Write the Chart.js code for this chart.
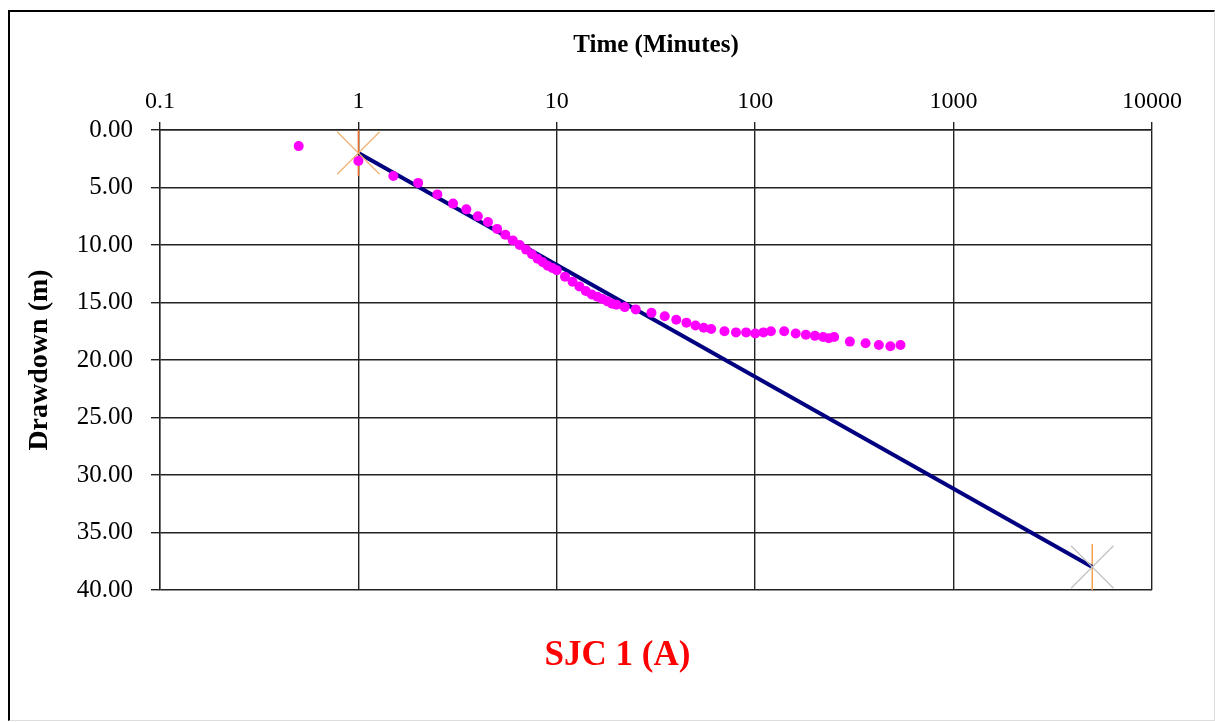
<!DOCTYPE html>
<html>
<head>
<meta charset="utf-8">
<title>SJC 1 (A)</title>
<script src="https://cdn.jsdelivr.net/npm/chart.js@4/dist/chart.umd.min.js"></script>
<style>
  body { margin: 0; background: #fff; }
  #frame {
    position: absolute; left: 8px; top: 10px; width: 1204px; height: 708px;
    border-top: 2px solid #000; border-left: 2px solid #000;
    border-right: 1px solid #ddd; border-bottom: 1px solid #ddd;
  }
  #myChart { position: absolute; left: 0; top: 0; }
</style>
</head>
<body>
<div id="frame"></div>
<canvas id="myChart" width="1215" height="722"></canvas>
<script>
// observed pumping test data
const timeMin = [0.5, 1, 1.5, 2, 2.5, 3, 3.5, 4, 4.5, 5, 5.5, 6, 6.5, 7, 7.5, 8, 8.5, 9, 9.5, 10,
  11, 12, 13, 14, 15, 16, 17, 18, 19, 20, 22, 25, 30, 35, 40, 45, 50, 55, 60, 70, 80, 90,
  100, 110, 120, 140, 160, 180, 200, 220, 235, 250, 300, 360, 420, 480, 540];
const drawdown = [1.4, 2.7, 4.0, 4.6, 5.6, 6.4, 6.9, 7.5, 8.0, 8.6, 9.1, 9.6, 10.0, 10.4, 10.8, 11.2, 11.5, 11.8, 12.0, 12.2,
  12.75, 13.2, 13.6, 14.0, 14.3, 14.5, 14.7, 14.9, 15.1, 15.2, 15.4, 15.6, 15.9, 16.2, 16.5, 16.75, 17.0, 17.2, 17.3, 17.5, 17.6, 17.6,
  17.7, 17.6, 17.5, 17.5, 17.7, 17.8, 17.9, 18.0, 18.1, 18.0, 18.4, 18.55, 18.7, 18.8, 18.7];

// straight line fit
const fitTime = [1, 5000];
const fitDrawdown = [2.0, 38.0];

const xTicks = [0.1, 1, 10, 100, 1000, 10000];

const serif = "'Liberation Serif', 'Times New Roman', serif";

const observed = timeMin.map((t, i) => ({ x: t, y: drawdown[i] }));
const fitPts = fitTime.map((t, i) => ({ x: t, y: fitDrawdown[i] }));

const ctx = document.getElementById('myChart').getContext('2d');
const myChart = new Chart(ctx, {
    type: 'scatter',
    data: {
        datasets: [
            {
                label: 'Observed',
                data: observed,
                backgroundColor: '#ff00ff',
                borderWidth: 0,
                pointRadius: 5,
                showLine: false
            },
            {
                label: 'Fit',
                data: fitPts,
                showLine: true,
                borderColor: '#000080',
                borderWidth: 4,
                pointStyle: 'crossRot',
                pointRadius: 30,
                pointBorderWidth: 1.2,
                pointBorderColor: ['#f0b070', '#c0c0c0'],
                pointBackgroundColor: 'transparent'
            },
            {
                label: 'Fit marker',
                data: fitPts,
                showLine: false,
                pointStyle: 'line',
                rotation: 90,
                pointRadius: 23,
                pointBorderWidth: 1.5,
                pointBorderColor: ['#ed6d25', '#f0a050']
            }
        ]
    },
    options: {
        responsive: false,
        animation: false,
        layout: { padding: { left: 20, right: 0, top: 0, bottom: 0 } },
        plugins: {
            legend: { display: false },
            tooltip: { enabled: false },
            title: {
                display: true,
                text: 'SJC 1 (A)',
                position: 'bottom',
                color: '#ff0000',
                font: { family: serif, size: 35, weight: 'bold' },
                padding: { top: 45, bottom: 45 }
            }
        },
        scales: {
            x: {
                type: 'logarithmic',
                position: 'top',
                min: 0.1,
                max: 10000,
                afterBuildTicks: scale => {
                    scale.ticks = xTicks.map(v => ({ value: v }));
                },
                afterFit: scale => { scale.height = 130; },
                ticks: {
                    color: '#000',
                    font: { family: serif, size: 24 },
                    padding: 6,
                    callback: v => String(v)
                },
                grid: { color: '#222', lineWidth: 1.4, tickLength: 8 },
                border: { color: '#222', width: 1.4 },
                title: {
                    display: true,
                    text: 'Time (Minutes)',
                    color: '#000',
                    font: { family: serif, size: 25, weight: 'bold' },
                    padding: { top: 31, bottom: 0 }
                }
            },
            y: {
                position: 'left',
                reverse: true,
                min: 0,
                max: 40,
                afterFit: scale => { scale.width = 140; },
                ticks: {
                    stepSize: 5,
                    color: '#000',
                    font: { family: serif, size: 25 },
                    padding: 18,
                    callback: v => v.toFixed(2)
                },
                grid: { color: '#222', lineWidth: 1.4, tickLength: 9 },
                border: { color: '#222', width: 1.4 },
                title: {
                    display: true,
                    text: 'Drawdown (m)',
                    color: '#000',
                    font: { family: serif, size: 28, weight: 'bold' },
                    padding: { top: 3, bottom: 0 }
                }
            },
            y2: {
                position: 'right',
                afterFit: scale => { scale.width = 63; },
                ticks: { display: false },
                grid: { display: false },
                border: { display: false }
            }
        }
    }
});
</script>
</body>
</html>
